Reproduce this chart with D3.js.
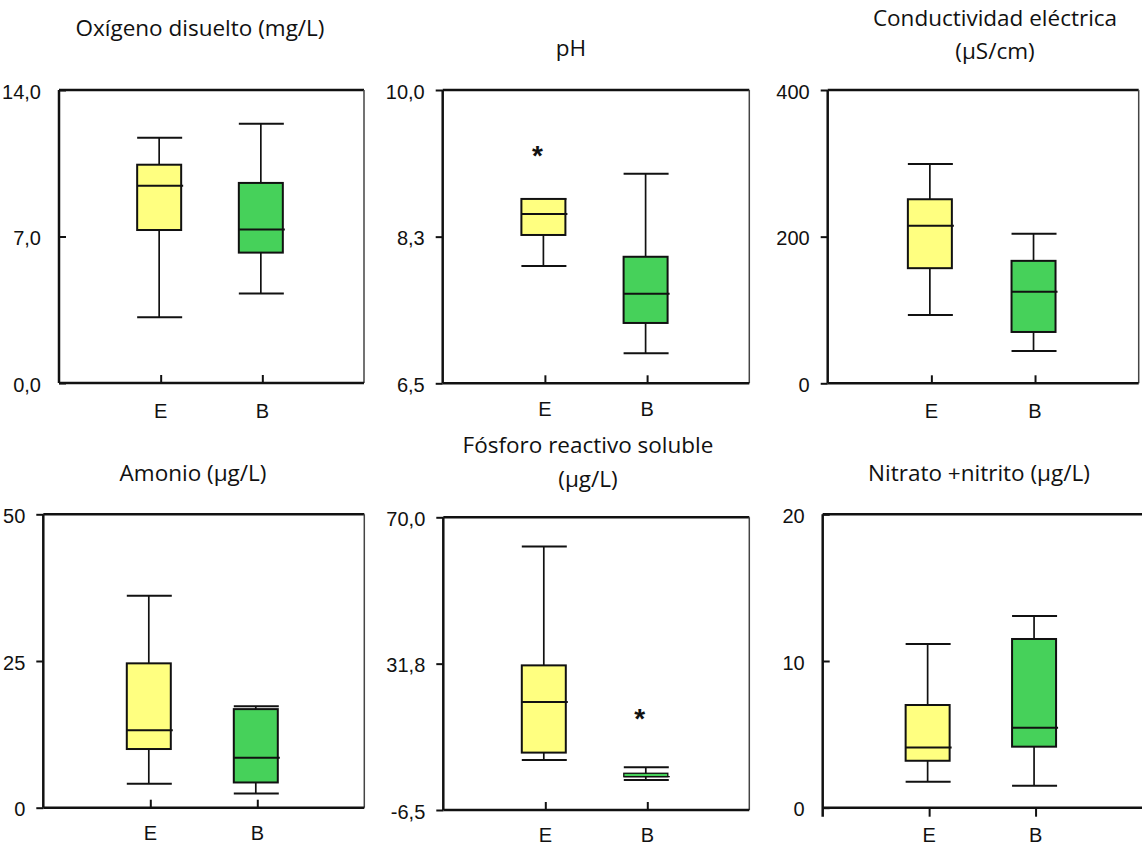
<!DOCTYPE html>
<html>
<head>
<meta charset="utf-8">
<script src="https://cdn.jsdelivr.net/npm/d3@7"></script>
<style>
  body { margin: 0; background: #fff; }
  svg { display: block; }
  .title { font-family: "Open Sans", sans-serif; font-size: 22.5px; fill: #111; }
  .tick-label { font-family: "Liberation Sans", Arial, sans-serif; font-size: 20px; fill: #111; }
</style>
</head>
<body>
<div id="chart"></div>
<script>
"use strict";

// data
const categories = ["E", "B"];
const titles = [
    ["Oxígeno disuelto (mg/L)"],
    ["pH"],
    ["Conductividad eléctrica", "(µS/cm)"],
    ["Amonio (µg/L)"],
    ["Fósforo reactivo soluble", "(µg/L)"],
    ["Nitrato +nitrito (µg/L)"]
];
const yDomains = [[0, 14], [6.5, 10], [0, 400], [0, 50], [-6.5, 70], [0, 20]];
const tickValues = [[0, 7, 14], [6.5, 8.25, 10], [0, 200, 400], [0, 25, 50], [-6.5, 31.75, 70], [0, 10, 20]];
const tickLabels = [
    ["0,0", "7,0", "14,0"],
    ["6,5", "8,3", "10,0"],
    ["0", "200", "400"],
    ["0", "25", "50"],
    ["-6,5", "31,8", "70,0"],
    ["0", "10", "20"]
];
// [E, B] per panel
const whiskerLow = [[3.14, 4.28], [7.90, 6.86], [93, 44], [4.1, 2.4], [6.6, 1.34], [1.77, 1.5]];
const q1 = [[7.31, 6.23], [8.27, 7.22], [157, 70], [10.0, 4.3], [8.5, 2.2], [3.2, 4.16]];
const median = [[9.43, 7.33], [8.52, 7.57], [215, 125], [13.2, 8.5], [21.7, 2.2], [4.1, 5.45]];
const q3 = [[10.43, 9.56], [8.70, 8.01], [251, 167], [24.6, 16.8], [31.3, 3.1], [7.0, 11.5]];
const whiskerHigh = [[11.72, 12.39], [8.70, 9.00], [299, 204], [36.1, 17.3], [62.4, 4.66], [11.16, 13.07]];
const outliers = [[[], []], [[9.28], []], [[], []], [[], []], [[], [18.8]], [[], []]];

// layout of the six panels
const panels = [
    { l: 59, t: 90, r: 364, b: 383, tx: 200, ty: [27], yIn: true, xIn: true, right: true, lab: 418 },
    { l: 442.7, t: 90, r: 749.3, b: 383.3, tx: 571, ty: [47], yIn: false, xIn: true, right: true, lab: 416 },
    { l: 827.7, t: 90, r: 1138.7, b: 383.3, tx: 995, ty: [17, 50], yIn: false, xIn: true, right: true, lab: 418 },
    { l: 43.3, t: 514.3, r: 364.3, b: 807.7, tx: 193, ty: [472], yIn: false, xIn: true, right: true, lab: 840 },
    { l: 443.3, t: 517.3, r: 749.3, b: 810, tx: 588, ty: [444, 478], yIn: false, xIn: true, right: true, lab: 842 },
    { l: 822.7, t: 514.3, r: 1142, b: 807.7, tx: 979, ty: [472], yIn: true, xIn: false, right: false, lab: 842 }
];

const width = 1143, height = 847;
const yellow = "#ffff80", green = "#46d15a";
const fills = [yellow, green];
const boxW = 44;

const svg = d3.select("#chart").append("svg")
    .attr("width", width)
    .attr("height", height);

panels.forEach((p, i) => {
    const g = svg.append("g");
    const x = d3.scalePoint().domain(categories).range([p.l, p.r]).padding(1);
    const y = d3.scaleLinear().domain(yDomains[i]).range([p.b, p.t]);

    // title
    titles[i].forEach((line, k) => {
        g.append("text")
            .attr("class", "title")
            .attr("x", p.tx)
            .attr("y", p.ty[k])
            .attr("text-anchor", "middle")
            .attr("dominant-baseline", "central")
            .text(line);
    });

    // frame
    g.append("line").attr("x1", p.l).attr("x2", p.r).attr("y1", p.t).attr("y2", p.t)
        .attr("stroke", "#111").attr("stroke-width", 2.5);
    if (p.right) {
        g.append("line").attr("x1", p.r).attr("x2", p.r).attr("y1", p.t).attr("y2", p.b)
            .attr("stroke", "#444").attr("stroke-width", 1.5);
    }

    // y axis
    const yAxis = d3.axisLeft(y)
        .tickValues(tickValues[i])
        .tickFormat((d, k) => tickLabels[i][k])
        .tickSizeInner(p.yIn ? -7 : 7)
        .tickSizeOuter(0)
        .tickPadding(p.yIn ? 18 : 11);
    const ya = g.append("g")
        .attr("transform", `translate(${p.l},0)`)
        .call(yAxis);
    ya.select(".domain").attr("stroke", "#111").attr("stroke-width", 2.5)
        .attr("d", `M0,${p.t}V${p.xIn ? p.b : p.b + 9}`);
    ya.selectAll(".tick line").attr("stroke", "#111").attr("stroke-width", 2);
    ya.selectAll(".tick text").attr("class", "tick-label").attr("dy", "0.4em")
        .attr("font-family", null).attr("font-size", null);

    // x axis
    const xAxis = d3.axisBottom(x)
        .tickSizeInner(p.xIn ? -8 : 9)
        .tickSizeOuter(0)
        .tickFormat("");
    const xa = g.append("g")
        .attr("transform", `translate(0,${p.b})`)
        .call(xAxis);
    xa.select(".domain").attr("stroke", "#111").attr("stroke-width", 2.5)
        .attr("d", `M${p.l},0H${p.r}`);
    xa.selectAll(".tick line").attr("stroke", "#111").attr("stroke-width", 2);

    categories.forEach(c => {
        g.append("text")
            .attr("class", "tick-label")
            .attr("x", x(c))
            .attr("y", p.lab)
            .attr("text-anchor", "middle")
            .text(c);
    });

    // boxes
    categories.forEach((c, j) => {
        const cx = x(c) - 1.5;
        // whisker stem
        g.append("line")
            .attr("x1", cx).attr("x2", cx)
            .attr("y1", y(whiskerLow[i][j])).attr("y2", y(whiskerHigh[i][j]))
            .attr("stroke", "#111").attr("stroke-width", 1.7);
        [whiskerLow[i][j], whiskerHigh[i][j]].forEach(v => {
            g.append("line")
                .attr("x1", cx - boxW / 2).attr("x2", cx + boxW / 2 + 1)
                .attr("y1", y(v)).attr("y2", y(v))
                .attr("stroke", "#111").attr("stroke-width", 2);
        });
        const bh = y(q1[i][j]) - y(q3[i][j]);
        g.append("rect")
            .attr("x", cx - boxW / 2)
            .attr("y", y(q3[i][j]))
            .attr("width", boxW)
            .attr("height", bh)
            .attr("fill", fills[j])
            .attr("stroke", "#111")
            .attr("stroke-width", bh < 6 ? 1.3 : 2);
        g.append("line")
            .attr("x1", cx - boxW / 2).attr("x2", cx + boxW / 2 + 2)
            .attr("y1", y(median[i][j])).attr("y2", y(median[i][j]))
            .attr("stroke", "#111").attr("stroke-width", bh < 6 ? 1.3 : 2);
        outliers[i][j].forEach(v => {
            g.append("text")
                .attr("class", "tick-label")
                .attr("x", cx - 6)
                .attr("y", y(v) + 15)
                .attr("text-anchor", "middle")
                .style("font-size", "28px")
                .style("font-weight", "bold")
                .text("*");
        });
    });
});
</script>
</body>
</html>
